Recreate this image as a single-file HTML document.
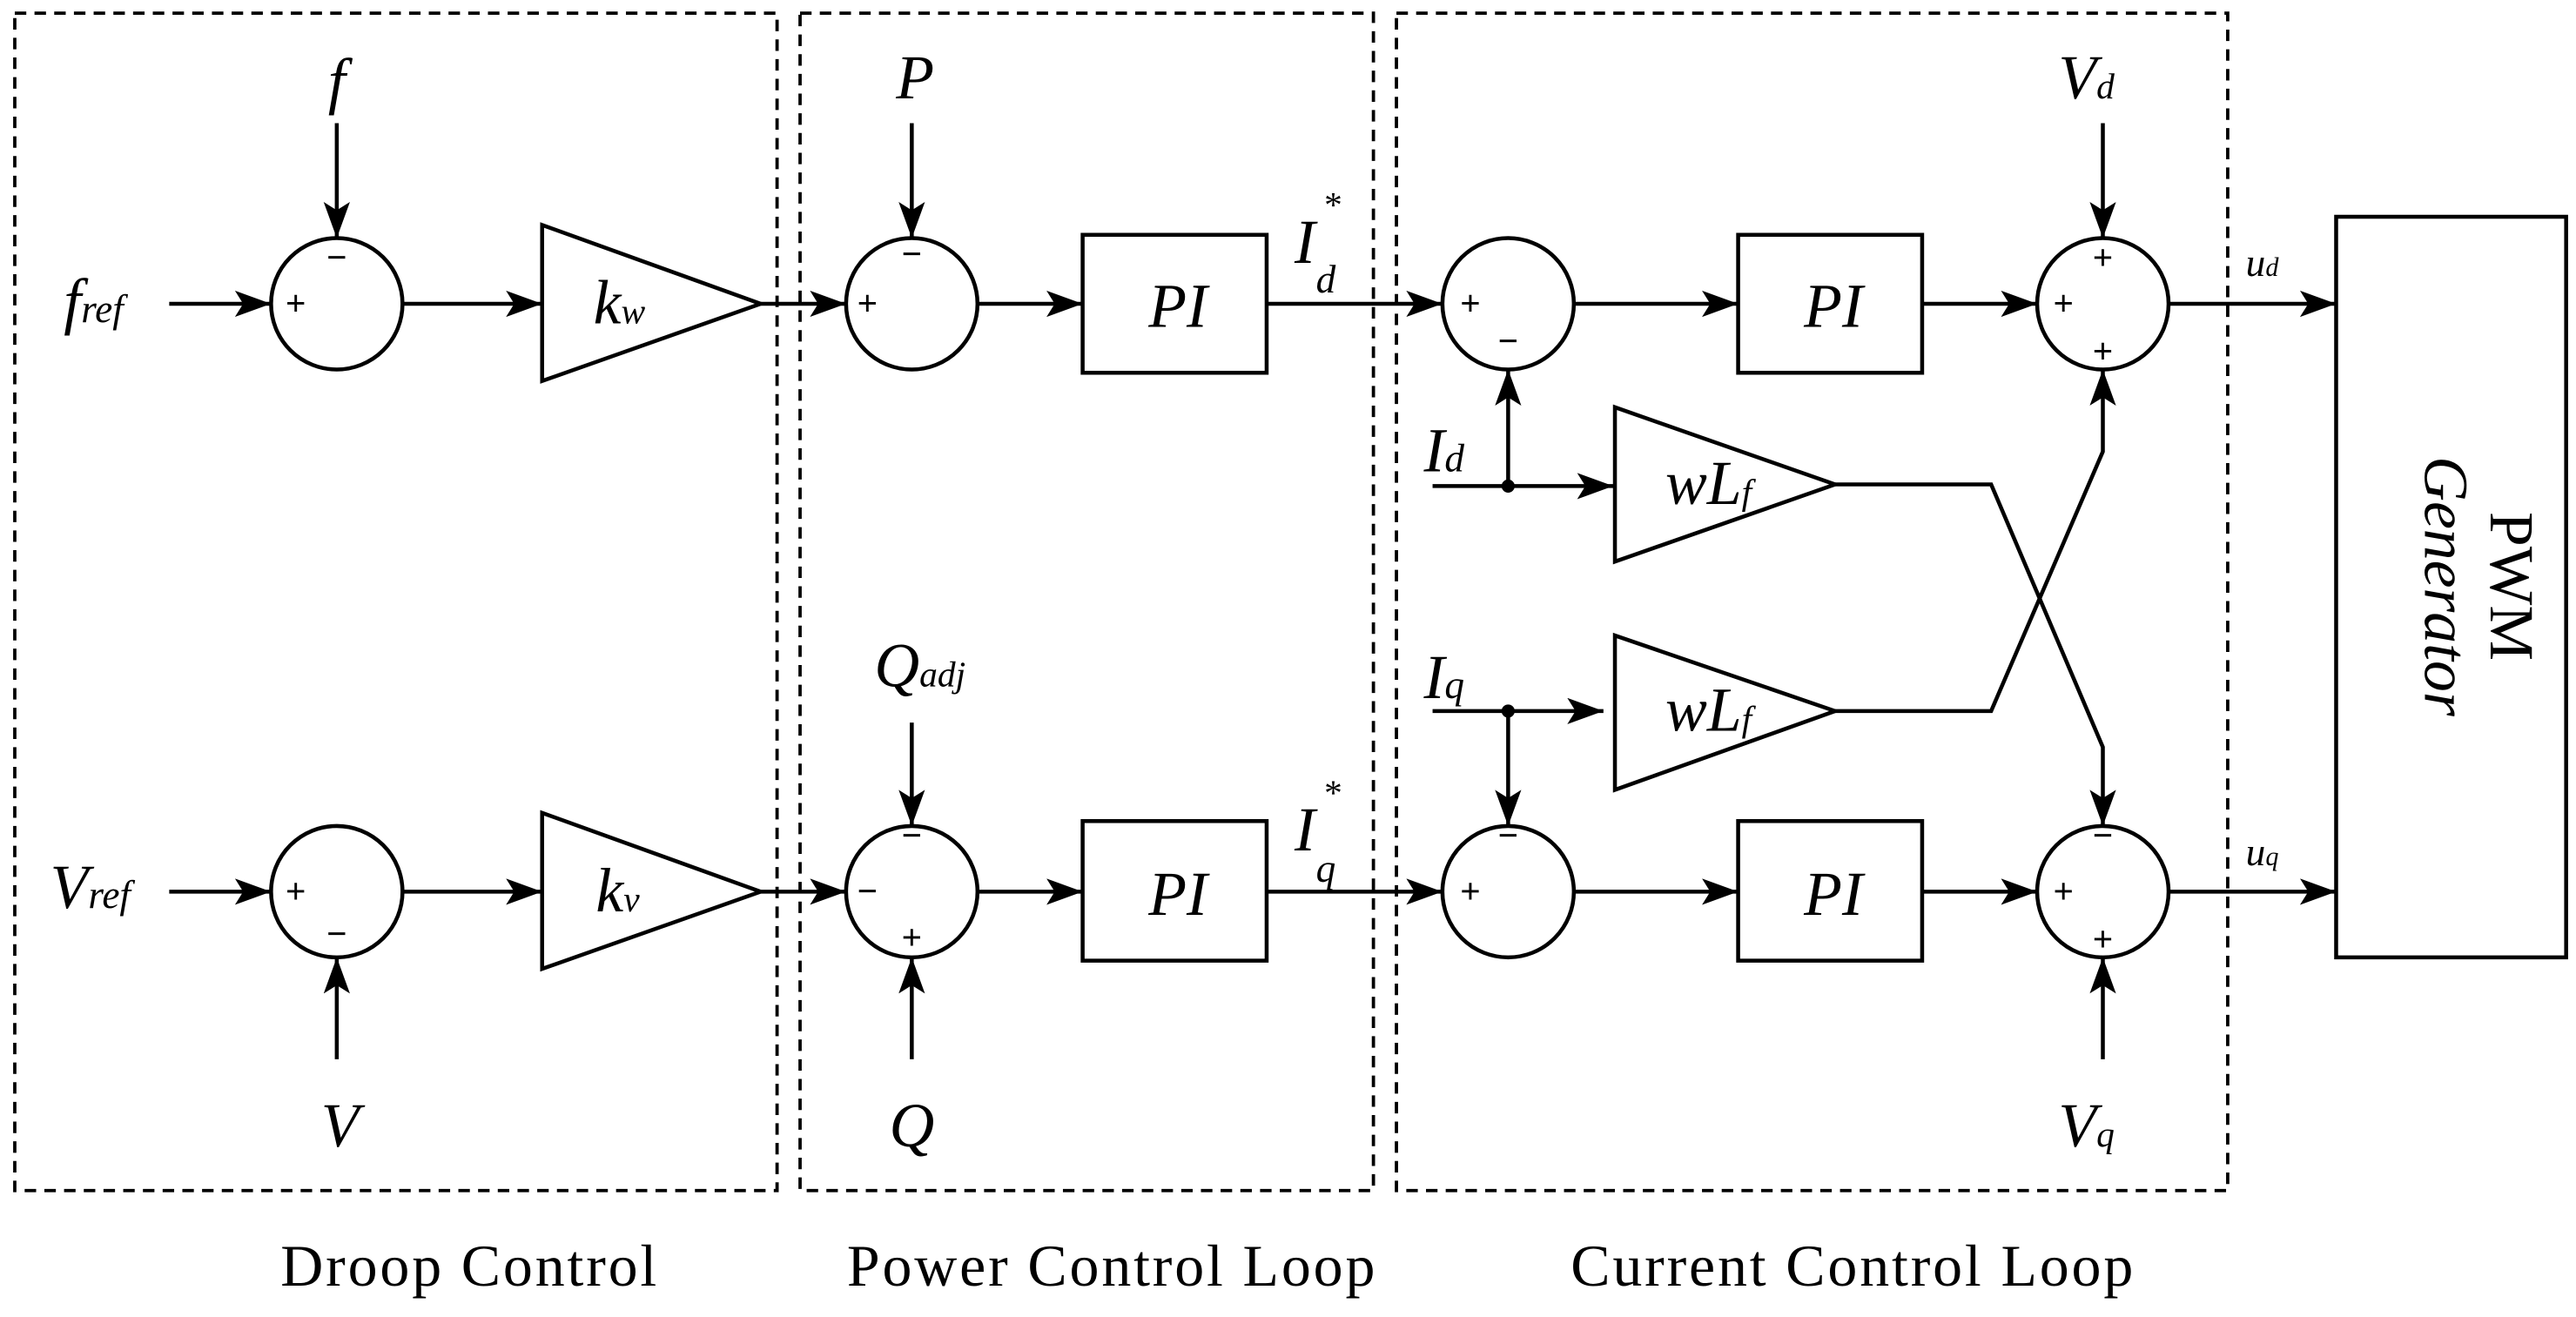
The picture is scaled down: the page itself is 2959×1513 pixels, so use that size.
<!DOCTYPE html>
<html><head><meta charset="utf-8"><style>
html,body{margin:0;padding:0;background:#fff;}
svg{display:block;}
text{font-family:"Liberation Serif",serif;fill:#000;}
.it{font-style:italic;}
</style></head><body>
<svg width="2959" height="1513" viewBox="0 0 1568 802" preserveAspectRatio="none" xmlns="http://www.w3.org/2000/svg">
<defs>
<marker id="a" markerUnits="userSpaceOnUse" markerWidth="24" markerHeight="18" refX="22" refY="8" orient="auto">
<path d="M0,0 L22,8 L0,16 L5,8 Z" fill="#000"/>
</marker>
</defs>
<g fill="none" stroke="#000" stroke-width="2.4">
<g stroke-dasharray="7,5" stroke-width="2">
<rect x="9" y="8" width="464" height="717"/>
<rect x="487" y="8" width="349" height="717"/>
<rect x="850" y="8" width="506" height="717"/>
</g>
<circle cx="205" cy="185" r="40"/><circle cx="555" cy="185" r="40"/><circle cx="918" cy="185" r="40"/><circle cx="1280" cy="185" r="40"/>
<circle cx="205" cy="543" r="40"/><circle cx="555" cy="543" r="40"/><circle cx="918" cy="543" r="40"/><circle cx="1280" cy="543" r="40"/>
<path d="M330,137 L330,232 L463,185 Z"/><path d="M330,495 L330,590 L463,543 Z"/>
<path d="M983,248 L983,342 L1117,295 Z"/><path d="M983,387 L983,481 L1117,433 Z"/>
<rect x="659" y="143" width="112" height="84"/><rect x="1058" y="143" width="112" height="84"/>
<rect x="659" y="500" width="112" height="85"/><rect x="1058" y="500" width="112" height="85"/>
<rect x="1422" y="132" width="140" height="451"/>
<g marker-end="url(#a)">
<line x1="103" y1="185" x2="165" y2="185"/><line x1="205" y1="75" x2="205" y2="145"/>
<line x1="245" y1="185" x2="330" y2="185"/><line x1="463" y1="185" x2="515" y2="185"/>
<line x1="555" y1="75" x2="555" y2="145"/><line x1="595" y1="185" x2="659" y2="185"/>
<line x1="771" y1="185" x2="878" y2="185"/><line x1="958" y1="185" x2="1058" y2="185"/>
<line x1="1170" y1="185" x2="1240" y2="185"/><line x1="1280" y1="75" x2="1280" y2="145"/>
<line x1="1320" y1="185" x2="1422" y2="185"/>
<line x1="103" y1="543" x2="165" y2="543"/><line x1="205" y1="645" x2="205" y2="583"/>
<line x1="245" y1="543" x2="330" y2="543"/><line x1="463" y1="543" x2="515" y2="543"/>
<line x1="555" y1="440" x2="555" y2="503"/><line x1="555" y1="645" x2="555" y2="583"/>
<line x1="595" y1="543" x2="659" y2="543"/>
<line x1="771" y1="543" x2="878" y2="543"/><line x1="958" y1="543" x2="1058" y2="543"/>
<line x1="1170" y1="543" x2="1240" y2="543"/><line x1="1280" y1="645" x2="1280" y2="583"/>
<line x1="1320" y1="543" x2="1422" y2="543"/>
<line x1="872" y1="296" x2="982" y2="296"/><line x1="918" y1="296" x2="918" y2="225"/>
<line x1="872" y1="433" x2="976" y2="433"/><line x1="918" y1="433" x2="918" y2="503"/>
<polyline points="1117,295 1212,295 1280,455 1280,503"/>
<polyline points="1117,433 1212,433 1280,275 1280,225"/>
</g>
</g>
<circle cx="918" cy="296" r="4"/><circle cx="918" cy="433" r="4"/>
<g font-family="Liberation Sans" font-size="22" font-weight="bold" text-anchor="middle">
<text x="180" y="192">+</text><text x="205" y="164">−</text>
<text x="180" y="550">+</text><text x="205" y="576">−</text>
<text x="528" y="192">+</text><text x="555" y="162">−</text>
<text x="528" y="550">−</text><text x="555" y="516">−</text><text x="555" y="578">+</text>
<text x="895" y="192">+</text><text x="918" y="215">−</text>
<text x="895" y="550">+</text><text x="918" y="516">−</text>
<text x="1256" y="192">+</text><text x="1280" y="164">+</text><text x="1280" y="221">+</text>
<text x="1256" y="550">+</text><text x="1280" y="516">−</text><text x="1280" y="579">+</text>
</g>
<g class="it" font-size="38" text-anchor="middle">
<text x="205" y="62">f</text>
<text x="557" y="60">P</text>
<text x="1270" y="60">V<tspan font-size="22">d</tspan></text>
<text x="1270" y="698">V<tspan font-size="22">q</tspan></text>
<text x="207" y="698">V</text>
<text x="555" y="698">Q</text>
<text x="560" y="418">Q<tspan font-size="22">adj</tspan></text>
<text x="57" y="196">f<tspan font-size="24">ref</tspan></text>
<text x="55" y="553">V<tspan font-size="24">ref</tspan></text>
<text x="377" y="197">k<tspan font-size="22">w</tspan></text>
<text x="376" y="555">k<tspan font-size="22">v</tspan></text>
<text x="717" y="199">PI</text><text x="1116" y="199">PI</text>
<text x="717" y="557">PI</text><text x="1116" y="557">PI</text>
<text x="1040" y="307">wL<tspan font-size="22">f</tspan></text>
<text x="1040" y="445">wL<tspan font-size="22">f</tspan></text>
<text x="879" y="287">I<tspan font-size="24">d</tspan></text>
<text x="879" y="425">I<tspan font-size="24">q</tspan></text>
</g>
<g class="it" font-size="38">
<text x="788" y="160">I</text><text x="805" y="132" font-size="22">*</text><text x="801" y="178" font-size="24">d</text>
<text x="788" y="518">I</text><text x="805" y="490" font-size="22">*</text><text x="801" y="537" font-size="24">q</text>
<text x="1367" y="168" font-size="24">u<tspan font-size="16">d</tspan></text>
<text x="1367" y="527" font-size="24">u<tspan font-size="16">q</tspan></text>
</g>
<g transform="translate(1492,357) rotate(90)" text-anchor="middle" font-size="38">
<text x="0" y="-24">PWM</text>
<text x="0" y="16" class="it">Generator</text>
</g>
<g font-size="36" text-anchor="middle" letter-spacing="1.5">
<text x="286" y="783">Droop Control</text>
<text x="677" y="783">Power Control Loop</text>
<text x="1128" y="783">Current Control Loop</text>
</g>
</svg>
</body></html>
